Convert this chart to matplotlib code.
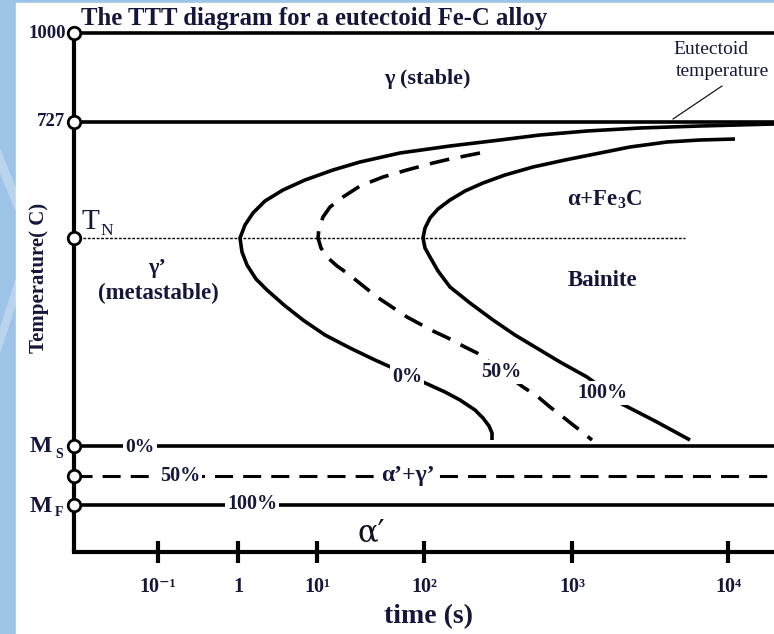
import numpy as np
import matplotlib.pyplot as plt
from matplotlib.patches import Rectangle, Polygon

plt.rcParams['mathtext.fontset'] = 'custom'
plt.rcParams['mathtext.rm'] = 'Liberation Serif:bold'

# schematic coordinates (x: time position, y: temperature position, y grows downward)
level_names = ['1000', '727', 'TN', 'Ms', '50', 'Mf']
level_y = [33, 122, 238, 446, 476, 505]
axis_x = 74
axis_bottom = 552

tick_x = [158, 238, 317, 424, 572, 728]
tick_labels = ['10⁻¹', '1', '10¹', '10²', '10³', '10⁴']

# 0% transformation curve (start)
start_x = [774, 700, 640, 587, 540, 500, 450, 400, 360, 333, 305, 283, 265, 253, 245, 240, 242,
           247, 256, 267, 284, 303, 325, 350, 375, 395, 423, 445, 460, 475, 483, 489, 492, 492]
start_y = [124, 126, 128, 131, 135, 140, 146, 153, 162, 170, 180, 190, 201, 213, 225, 238, 252,
           265, 279, 290, 305, 320, 335, 348, 360, 369, 382, 392, 400, 410, 418, 426, 433, 440]

# 50% curve (dashed)
half_x = [480, 450, 433, 407, 383, 360, 343, 330, 323, 319, 318, 321, 327, 337, 347, 362, 377,
          392, 407, 420, 433, 448, 463, 477, 500, 523, 537, 550, 563, 577, 592]
half_y = [153, 159, 163, 170, 177, 186, 197, 207, 217, 228, 238, 248, 257, 266, 273, 285, 297,
          307, 317, 324, 331, 338, 346, 353, 370, 387, 396, 407, 417, 428, 440]

# 100% curve (finish)
end_x = [735, 700, 667, 630, 600, 565, 533, 505, 483, 465, 450, 438, 430, 425, 423, 425, 430,
         438, 450, 470, 493, 515, 540, 560, 587, 605, 620, 655, 690]
end_y = [139, 140, 142, 147, 153, 160, 167, 175, 183, 191, 200, 209, 218, 228, 238, 248, 257,
         271, 287, 303, 320, 335, 350, 362, 377, 390, 403, 421, 440]

W, H = 774, 634
fig = plt.figure(figsize=(W / 100, H / 100), dpi=100)
ax = fig.add_axes([0, 0, 1, 1])
ax.set_xlim(0, W)
ax.set_ylim(H, 0)
ax.axis('off')

# slide background
ax.add_patch(Rectangle((0, 0), W, H, color='#9dc3e6', zorder=0))
ax.add_patch(Polygon([(0, 150), (16, 190), (16, 210), (0, 172)], color='#b9d5ee', zorder=0.5))
ax.add_patch(Polygon([(0, 330), (16, 280), (16, 302), (0, 352)], color='#b9d5ee', zorder=0.5))
ax.add_patch(Rectangle((16, 3), W - 16, H - 3, color='white', zorder=1))

ink = 'black'
txt = '#16163a'
serif = ['Liberation Serif', 'DejaVu Serif']
lw = 2.6

# frame
ax.plot([axis_x, axis_x], [level_y[0], axis_bottom], color=ink, lw=3, zorder=3, solid_capstyle='butt')
ax.plot([axis_x, W], [axis_bottom, axis_bottom], color=ink, lw=3, zorder=3)
for name, y in zip(level_names, level_y):
    if name == 'TN':
        ax.plot([axis_x, 685], [y, y], color=ink, lw=1.0, ls=(0, (2, 1.2)), zorder=2)
    elif name == '50':
        ax.plot([axis_x, W], [y, y], color=ink, lw=2.2, ls=(0, (5.9, 3.3)), zorder=2)
    else:
        ax.plot([axis_x, W], [y, y], color=ink, lw=lw, zorder=2)
ax.plot([axis_x] * len(level_y), level_y, 'o', ms=9, mfc='white', mec=ink, mew=2, zorder=6)

for x in tick_x:
    ax.plot([x, x], [541, 563], color=ink, lw=3, zorder=3, solid_capstyle='butt')
for x, lab in zip(tick_x, tick_labels):
    ax.text(x, 587, lab, ha='center', va='center', fontsize=14.5, fontweight='bold',
            family=serif, color=txt)

# curves
ax.plot(start_x, start_y, color=ink, lw=lw, zorder=3, solid_capstyle='butt', solid_joinstyle='round')
ax.plot(half_x, half_y, color=ink, lw=lw, ls=(0, (5.5, 3.2)), zorder=3)
ax.plot(end_x, end_y, color=ink, lw=lw, zorder=3, solid_capstyle='butt', solid_joinstyle='round')

# eutectoid leader
ax.plot([722, 673], [86, 119], color=ink, lw=0.8, zorder=3)
ax.text(711, 50, 'Eutectoid', ha='center', va='center', fontsize=14, family=serif, color=txt)
ax.text(722, 72, 'temperature', ha='center', va='center', fontsize=14, family=serif, color=txt)

box = dict(boxstyle='square,pad=0.1', fc='white', ec='none')
bold = dict(fontweight='bold', family=serif, color=txt)

ax.text(81, 19, 'The TTT diagram for a eutectoid Fe-C alloy', ha='left', va='center',
        fontsize=17.8, **bold)
ax.text(66, 33, '1000', ha='right', va='center', fontsize=13.5, **bold)
ax.text(65, 121, '727', ha='right', va='center', fontsize=13.5, **bold)
ax.text(90, 222, 'T', ha='center', va='center', fontsize=21, color=txt, family=serif)
ax.text(107, 231, 'N', ha='center', va='center', fontsize=12.5, color=txt, family=serif)
ax.text(41, 447, 'M', ha='center', va='center', fontsize=17, **bold)
ax.text(59, 454, 'S', ha='center', va='center', fontsize=10, **bold)
ax.text(41, 506, 'M', ha='center', va='center', fontsize=17, **bold)
ax.text(59, 512, 'F', ha='center', va='center', fontsize=10, **bold)
ax.text(39, 278, 'Temperature( C)', ha='center', va='center', rotation=90, fontsize=15, **bold)

ax.text(427, 79, 'γ (stable)', ha='center', va='center', fontsize=16, **bold)
ax.text(157, 268, 'γ’', ha='center', va='center', fontsize=16, **bold)
ax.text(158, 293, '(metastable)', ha='center', va='center', fontsize=16.5, **bold)
ax.text(605, 200, 'α+Fe$_3$C', ha='center', va='center', fontsize=16.5, **bold)
ax.text(602, 280, 'Bainite', ha='center', va='center', fontsize=16.5, **bold)

ax.text(407, 377, '0%', ha='center', va='center', fontsize=14.5, bbox=box, zorder=5, **bold)
ax.text(501, 372, '50%', ha='center', va='center', fontsize=14.5, bbox=box, zorder=5, **bold)
ax.text(602, 393, '100%', ha='center', va='center', fontsize=14.5, bbox=box, zorder=5, **bold)
ax.text(140, 447, '0%', ha='center', va='center', fontsize=14, bbox=box, zorder=5, **bold)
ax.text(180, 476, '50%', ha='center', va='center', fontsize=14.5, bbox=box, zorder=5, **bold)
ax.text(408, 476, 'α’+γ’', ha='center', va='center', fontsize=17, bbox=box, zorder=5, **bold)
ax.text(252, 504, '100%', ha='center', va='center', fontsize=14.5, bbox=box, zorder=5, **bold)
ax.text(371, 533, 'α′', ha='center', va='center', fontsize=22, color='#101020',
        family='DejaVu Serif')
ax.text(428, 617, 'time (s)', ha='center', va='center', fontsize=20, **bold)

fig.savefig('out.png', dpi=100)
